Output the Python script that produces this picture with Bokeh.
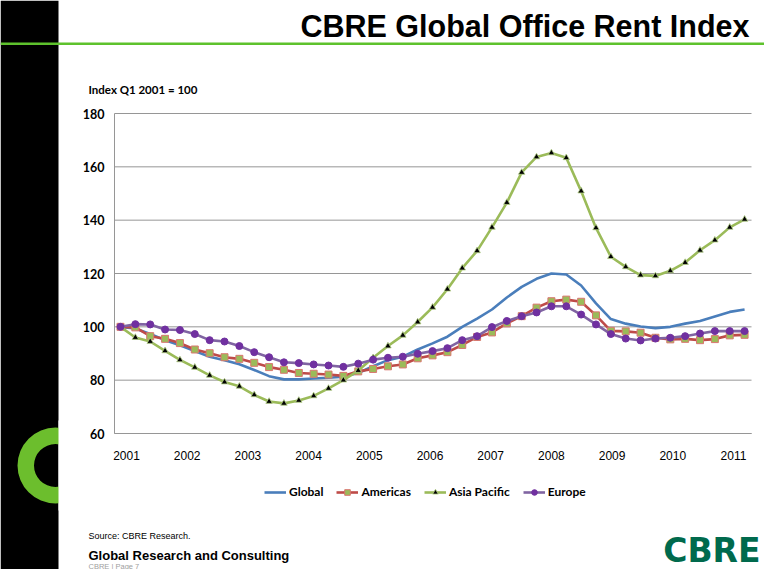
from bokeh.plotting import figure
from bokeh.models import Range1d, FixedTicker, Legend, LegendItem, LinearAxis
from bokeh.core.properties import value
from bokeh.embed import file_html
from bokeh.resources import INLINE

# ---------------- data ----------------
quarters = [f"Q{q} {y}" for y in range(2001, 2012) for q in range(1, 5)][:43]

global_index = [100.0, 99.4, 97.3, 95.0, 93.1, 90.9, 88.8, 87.5, 86.0, 83.8,
                81.5, 80.3, 80.3, 80.6, 80.9, 81.3, 82.7, 85.2, 87.5, 88.8,
                91.5, 93.8, 96.3, 100.0, 103.1, 106.5, 111.0, 115.0, 118.0, 120.0,
                119.6, 115.5, 108.8, 102.9, 101.2, 100.1, 99.5, 100.0, 101.2, 102.2,
                103.9, 105.6, 106.5]
americas = [100.0, 99.8, 96.5, 95.5, 93.9, 91.5, 90.1, 88.6, 88.0, 86.5,
            84.9, 83.9, 82.7, 82.4, 82.1, 81.6, 83.3, 84.2, 85.2, 85.9,
            88.2, 89.3, 90.5, 93.2, 96.2, 97.9, 101.3, 104.0, 107.2, 109.6,
            110.2, 109.4, 104.3, 98.5, 98.3, 97.8, 95.9, 95.3, 95.5, 95.0,
            95.4, 96.8, 97.0]
asia_pacific = [100.0, 96.0, 94.5, 91.0, 87.6, 84.8, 81.8, 79.3, 77.7, 74.5,
                72.0, 71.3, 72.4, 74.1, 76.9, 80.0, 83.6, 88.4, 92.8, 96.8,
                101.8, 107.3, 114.1, 122.0, 128.5, 137.3, 146.6, 157.9, 163.7, 165.2,
                163.4, 150.9, 137.1, 126.3, 122.5, 119.4, 119.1, 121.0, 124.1, 128.7,
                132.5, 137.3, 140.3]
europe = [100.0, 101.0, 100.9, 99.0, 98.8, 97.3, 95.0, 94.5, 92.8, 90.5,
          88.6, 86.7, 86.4, 85.9, 85.5, 85.0, 86.2, 87.7, 88.4, 88.8,
          89.9, 90.9, 92.0, 95.0, 96.5, 99.9, 102.2, 104.0, 105.4, 107.7,
          107.7, 104.6, 100.9, 97.3, 95.6, 94.9, 95.6, 95.9, 96.5, 97.5,
          98.4, 98.4, 98.4]
year_ticks = list(range(2001, 2012))
y_ticks = [60, 80, 100, 120, 140, 160, 180]
series_names = ["Global", "Americas", "Asia Pacific", "Europe"]

# position of each quarter on the year axis (as drawn in the source chart)
X0, STEP = 2000.901, 0.2448
x = [X0 + i * STEP for i in range(len(quarters))]

# ---------------- canvas: page-pixel ranges + chart ranges ----------------
W, H = 764, 569
# chart plot area in page pixels: x 114..751, y 113..433
PX_PER_YEAR = 60.7
X_2001 = 126.0
Y_TOP, Y_BOT = 113.0, 433.0
PX_PER_UNIT = (Y_BOT - Y_TOP) / (180 - 60)


def px_to_year(px):
    return 2001 + (px - X_2001) / PX_PER_YEAR


def py_to_val(py):
    return 60 + (Y_BOT - py) / PX_PER_UNIT


XL, XR = px_to_year(114), px_to_year(751)

p = figure(width=W, height=H, output_backend="svg", toolbar_location=None,
           x_range=Range1d(0, W), y_range=Range1d(H, 0),
           x_axis_type=None, y_axis_type=None,
           min_border=0, min_border_left=0, min_border_right=0,
           min_border_top=0, min_border_bottom=0)
p.extra_x_ranges = {"yrs": Range1d(px_to_year(0), px_to_year(W))}
p.extra_y_ranges = {"idx": Range1d(py_to_val(H), py_to_val(0))}
p.outline_line_color = None
p.background_fill_color = "white"
p.border_fill_color = "white"

# ---------------- slide decoration (page pixels) ----------------
GREEN = "#5EC22D"
p.quad(left=[0], right=[58], top=[0], bottom=[H], fill_color="black", line_color=None)
p.annulus(x=[55], y=[465], inner_radius=21.5, outer_radius=38,
          fill_color="#6CBE2D", line_color=None)
p.quad(left=[58], right=[100], top=[420], bottom=[510], fill_color="white", line_color=None)
p.quad(left=[0], right=[W], top=[42], bottom=[44.5], fill_color=GREEN, line_color=None)


def txt(px, py, s, size, font="Liberation Sans", style="normal", color="black",
        align="left"):
    p.text(x=[px], y=[py], text=[s], text_font=value(font), text_font_size=value(size),
           text_font_style=style, text_color=color, text_align=align,
           text_baseline="middle")


txt(749, 25, "CBRE Global Office Rent Index", "30.5px", style="bold", align="right")
txt(88, 89, "Index Q1 2001 = 100", "11.5px", font="Lato", style="bold")
txt(88, 535, "Source: CBRE Research.", "9px")
txt(88, 555, "Global Research and Consulting", "13px", style="bold")
txt(88, 565.5, "CBRE  |  Page 7", "7.5px", color="#A0A0A0")
txt(760, 550, "CBRE", "33px", font="DejaVu Sans", style="bold", color="#006A4D",
    align="right")

# ---------------- chart ----------------
GRID = "#969696"
p.segment(x0=[XL] * len(y_ticks), x1=[XR] * len(y_ticks), y0=y_ticks, y1=y_ticks,
          line_color=GRID, line_width=1, x_range_name="yrs", y_range_name="idx")

yaxis = LinearAxis(x_range_name="yrs", y_range_name="idx", fixed_location=XL,
                   bounds=(60, 180), ticker=FixedTicker(ticks=y_ticks))
yaxis.axis_line_color = GRID
yaxis.major_tick_line_color = None
yaxis.minor_tick_line_color = None
yaxis.major_tick_out = 0
yaxis.minor_tick_out = 0
yaxis.major_label_standoff = 10
yaxis.major_label_text_font = "Lato"
yaxis.major_label_text_font_style = "bold"
yaxis.major_label_text_font_size = "12.5px"
yaxis.major_label_text_color = "black"
p.add_layout(yaxis, "left")

xaxis = LinearAxis(x_range_name="yrs", y_range_name="idx", fixed_location=60,
                   bounds=(XL, XR), ticker=FixedTicker(ticks=year_ticks))
xaxis.axis_line_color = GRID
xaxis.major_tick_line_color = None
xaxis.minor_tick_line_color = None
xaxis.major_tick_out = 0
xaxis.minor_tick_out = 0
xaxis.major_label_standoff = 17
xaxis.major_label_text_font = "Liberation Sans"
xaxis.major_label_text_font_size = "12px"
xaxis.major_label_text_color = "black"
p.add_layout(xaxis, "below")

rk = dict(x_range_name="yrs", y_range_name="idx")
r_g = p.line(x, global_index, line_color="#4A7EBB", line_width=2.6, **rk)
r_a = p.line(x, americas, line_color="#BE4B48", line_width=2.6, **rk)
r_as = p.scatter(x, americas, marker="square", size=7, fill_color="#9BBB59",
                 line_color="#D9776F", line_width=1, **rk)
r_p = p.line(x, asia_pacific, line_color="#9BBB59", line_width=2.6, **rk)
r_ps = p.scatter(x, asia_pacific, marker="triangle", size=6.5, fill_color="black",
                 line_color="#B7D38A", line_width=0.8, **rk)
r_e = p.line(x, europe, line_color="#8064A2", line_width=2.6, **rk)
r_es = p.scatter(x, europe, marker="circle", size=7, fill_color="#7030A0",
                 line_color="#7030A0", line_width=1, **rk)

legend = Legend(items=[LegendItem(label=series_names[0], renderers=[r_g]),
                       LegendItem(label=series_names[1], renderers=[r_a, r_as]),
                       LegendItem(label=series_names[2], renderers=[r_p, r_ps]),
                       LegendItem(label=series_names[3], renderers=[r_e, r_es])],
                orientation="horizontal", location=(264, H - 499),
                padding=0, margin=0, spacing=13, glyph_width=22, glyph_height=14,
                label_standoff=3, label_height=14,
                label_text_font="Lato", label_text_font_style="bold",
                label_text_font_size="12px", label_text_color="black",
                border_line_color=None, background_fill_alpha=0)
p.add_layout(legend)

open("out.html", "w").write(file_html(p, INLINE))
